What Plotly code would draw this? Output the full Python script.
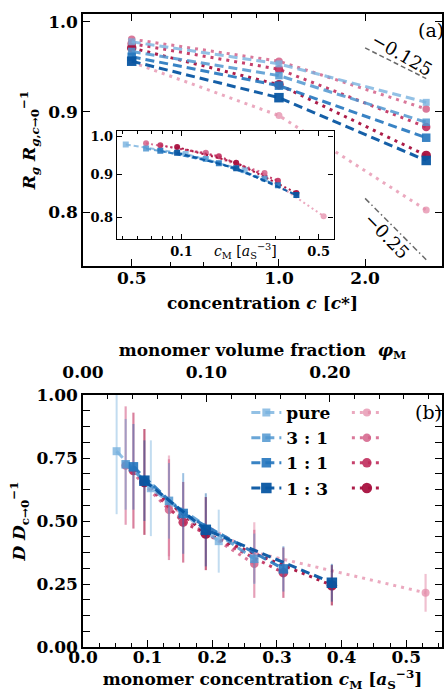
import math
import plotly.graph_objects as go

# ---------------------------------------------------------------- data
RATIOS = ["pure", "3 : 1", "1 : 1", "1 : 3"]
C_VALUES = [0.5, 1.0, 2.0]                     # concentration c [c*]

# monomer concentration c_M for each mixture at c = 0.5, 1, 2
CM_BLUE = [[0.052, 0.105, 0.21],
           [0.066, 0.133, 0.265],
           [0.078, 0.155, 0.31],
           [0.095, 0.19, 0.385]]
CM_RED = [[0.133, 0.265, 0.53],
          [0.066, 0.133, 0.265],
          [0.078, 0.155, 0.31],
          [0.095, 0.19, 0.385]]

# normalised radius of gyration  R_g / R_g(c->0)
RG_BLUE = [[0.977, 0.952, 0.910],
           [0.966, 0.939, 0.889],
           [0.960, 0.928, 0.873],
           [0.955, 0.915, 0.850]]
RG_RED = [[0.954, 0.896, 0.802],
          [0.980, 0.955, 0.903],
          [0.975, 0.946, 0.884],
          [0.970, 0.929, 0.855]]

# normalised diffusion coefficient  D / D(c->0) and its uncertainty
D_BLUE = [[0.777, 0.630, 0.420],
          [0.725, 0.580, 0.350],
          [0.715, 0.530, 0.310],
          [0.660, 0.465, 0.255]]
D_BLUE_ERR = [[0.25, 0.19, 0.125],
              [0.18, 0.15, 0.10],
              [0.17, 0.16, 0.09],
              [0.16, 0.145, 0.075]]
D_RED = [[0.560, 0.375, 0.215],
         [0.720, 0.545, 0.330],
         [0.700, 0.495, 0.295],
         [0.655, 0.450, 0.245]]
D_RED_ERR = [[0.20, 0.12, 0.075],
             [0.235, 0.20, 0.135],
             [0.23, 0.16, 0.10],
             [0.21, 0.145, 0.08]]

# power-law guide lines  (exponent, x-span, y at start)
GUIDE_EXPONENTS = [-0.125, -0.25]
GUIDE_X = [1.5, 2.0]
GUIDE_Y0 = [0.970, 0.813]

PHI_PER_CM = math.pi / 6.0                     # volume fraction per monomer density

# ---------------------------------------------------------------- style
BLUES = ["rgba(120,178,222,0.80)", "rgba(80,150,208,0.85)",
         "rgba(36,117,190,0.90)", "rgba(8,86,162,0.95)"]
REDS = ["rgba(228,140,170,0.75)", "rgba(212,96,136,0.85)",
        "rgba(192,44,92,0.90)", "rgba(168,16,62,0.95)"]
BLUE_ERR = ["rgba(120,178,222,0.45)", "rgba(80,150,208,0.45)",
            "rgba(36,117,190,0.45)", "rgba(8,86,162,0.45)"]
RED_ERR = ["rgba(228,140,170,0.55)", "rgba(212,96,136,0.6)",
           "rgba(192,44,92,0.6)", "rgba(168,16,62,0.65)"]
MSIZE = [7, 7.5, 8.5, 9.5]
DASH_B = "9px,5px"
DOT_R = "3px,5px"

FONT = "DejaVu Serif"
TICKFONT = dict(family=FONT, size=17, color="black", weight="bold")
TITLEFONT = dict(family=FONT, size=17, color="black", weight="bold")

fig = go.Figure()

# ---------------------------------------------------------------- panel (a)
for i in range(4):
    fig.add_trace(go.Scatter(
        x=C_VALUES, y=RG_RED[i], mode="lines+markers", xaxis="x", yaxis="y",
        line=dict(color=REDS[i], width=3, dash=DOT_R),
        marker=dict(symbol="circle", size=MSIZE[i], color=REDS[i]),
        showlegend=False))
for i in range(4):
    fig.add_trace(go.Scatter(
        x=C_VALUES, y=RG_BLUE[i], mode="lines+markers", xaxis="x", yaxis="y",
        line=dict(color=BLUES[i], width=3, dash=DASH_B),
        marker=dict(symbol="square", size=MSIZE[i], color=BLUES[i]),
        showlegend=False))

# guide lines with the labelled exponents
for k, expo in enumerate(GUIDE_EXPONENTS):
    gy = [GUIDE_Y0[k] * (xv / GUIDE_X[0]) ** expo for xv in GUIDE_X]
    fig.add_trace(go.Scatter(
        x=GUIDE_X, y=gy, mode="lines", xaxis="x", yaxis="y",
        line=dict(color="rgba(90,90,90,0.9)", width=1.5,
                  dash="5px,3px" if k == 0 else "6px,3px,1.5px,3px"),
        showlegend=False, hoverinfo="skip"))

# ---------------------------------------------------------------- inset
for i in range(4):
    fig.add_trace(go.Scatter(
        x=CM_RED[i], y=RG_RED[i], mode="lines+markers", xaxis="x4", yaxis="y4",
        line=dict(color=REDS[i], width=2, dash="2px,3px"),
        marker=dict(symbol="circle", size=6, color=REDS[i]),
        showlegend=False))
for i in range(4):
    fig.add_trace(go.Scatter(
        x=CM_BLUE[i], y=RG_BLUE[i], mode="lines+markers", xaxis="x4", yaxis="y4",
        line=dict(color=BLUES[i], width=2, dash="5px,3px"),
        marker=dict(symbol="square", size=6, color=BLUES[i]),
        showlegend=False))

# ---------------------------------------------------------------- panel (b)
for i in range(4):
    fig.add_trace(go.Scatter(
        x=CM_RED[i], y=D_RED[i], mode="lines+markers", xaxis="x2", yaxis="y2",
        error_y=dict(type="data", array=D_RED_ERR[i], color=RED_ERR[i],
                     thickness=2.2, width=0),
        line=dict(color=REDS[i], width=3, dash=DOT_R),
        marker=dict(symbol="circle", size=MSIZE[i] + 1, color=REDS[i]),
        name="", legend="legend2", showlegend=True))
for i in range(4):
    fig.add_trace(go.Scatter(
        x=CM_BLUE[i], y=D_BLUE[i], mode="lines+markers", xaxis="x2", yaxis="y2",
        error_y=dict(type="data", array=D_BLUE_ERR[i], color=BLUE_ERR[i],
                     thickness=2, width=0),
        line=dict(color=BLUES[i], width=3, dash=DASH_B),
        marker=dict(symbol="square", size=MSIZE[i] + 1, color=BLUES[i]),
        name=RATIOS[i], legend="legend", showlegend=True))

# empty trace carrying the volume-fraction axis on top of panel (b)
fig.add_trace(go.Scatter(x=[], y=[], xaxis="x3", yaxis="y2", showlegend=False))

# ---------------------------------------------------------------- axes
frame = dict(showline=True, linecolor="black", linewidth=1.6, ticks="inside",
             tickcolor="black", tickwidth=1.4, ticklen=7, showgrid=False,
             zeroline=False, tickfont=TICKFONT)

CM_MAX = 0.5554
TOP_DOM = [0.6019, 1.0]
BOT_DOM = [0.0, 0.3981]

fig.update_layout(
    width=447, height=693,
    margin=dict(l=83, r=3, t=14, b=46),
    paper_bgcolor="white", plot_bgcolor="white",
    font=dict(family=FONT, color="black"),
    xaxis=dict(frame, type="log", domain=[0, 1], anchor="y", mirror="allticks",
               range=[-0.4006, 0.3333], ticklabelstandoff=-4,
               tickvals=[0.5, 1.0, 1.5], ticktext=["0.5", "1.0", "2.0"],
               minor=dict(tickmode="array", tickvals=[0.6, 0.7, 0.8, 0.9],
                          ticks="inside", ticklen=4, tickcolor="black"),
               title=dict(text="concentration <i>c</i> [<i>c</i>*]",
                          font=TITLEFONT, standoff=10)),
    yaxis=dict(frame, type="log", domain=TOP_DOM, anchor="x", mirror="allticks",
               range=[math.log10(0.751), math.log10(1.0094)],
               tickvals=[0.8, 0.9, 1.0], ticktext=["0.8", "0.9", "1.0"],
               title=dict(text="<i>R<sub>g</sub> R</i><sub><i>g</i>,<i>c</i>→0</sub><sup>−1</sup>",
                          font=TITLEFONT, standoff=8)),
    xaxis4=dict(frame, type="log", domain=[0.0942, 0.698], anchor="y4",
                mirror="allticks", range=[-1.3296, -0.225], ticklen=5,
                linewidth=1.4,
                tickvals=[0.1, 0.5], ticktext=["0.1", "0.5"],
                tickfont=dict(family=FONT, size=13, color="black", weight="bold"),
                minor=dict(tickmode="array",
                           tickvals=[0.05, 0.06, 0.07, 0.08, 0.09, 0.2, 0.3, 0.4],
                           ticks="inside", ticklen=3, tickcolor="black")),
    yaxis4=dict(frame, type="log", domain=[0.6445, 0.8152], anchor="x4",
                mirror="allticks", range=[math.log10(0.753), math.log10(1.014)],
                ticklen=5, linewidth=1.4,
                tickvals=[0.8, 0.9, 1.0], ticktext=["0.8", "0.9", "1.0"],
                tickfont=dict(family=FONT, size=13, color="black", weight="bold")),
    xaxis2=dict(frame, domain=[0, 1], anchor="y2", mirror=False,
                range=[0, CM_MAX], tickvals=[0, 0.1, 0.2, 0.3, 0.4, 0.5],
                ticktext=["0.0", "0.1", "0.2", "0.3", "0.4", "0.5"],
                ticklabelstandoff=-6,
                minor=dict(dtick=0.025, ticks="inside", ticklen=4, tickcolor="black"),
                title=dict(text="monomer concentration <i>c</i><sub>M</sub> [<i>a</i><sub>S</sub><sup>−3</sup>]",
                           font=TITLEFONT, standoff=0)),
    xaxis3=dict(frame, overlaying="x2", side="top", anchor="y2",
                range=[0, CM_MAX * PHI_PER_CM], ticklabelstandoff=8,
                tickvals=[0.0, 0.1, 0.2], ticktext=["0.00", "0.10", "0.20"],
                minor=dict(dtick=0.02, ticks="inside", ticklen=4, tickcolor="black"),
                title=dict(text="monomer volume fraction  <i>φ</i><sub>M</sub>",
                           font=TITLEFONT, standoff=0)),
    yaxis2=dict(frame, domain=BOT_DOM, anchor="x2", mirror="allticks",
                range=[0, 1], tickvals=[0, 0.25, 0.5, 0.75, 1.0],
                ticktext=["0.00", "0.25", "0.50", "0.75", "1.00"],
                minor=dict(dtick=0.0625, ticks="inside", ticklen=4, tickcolor="black"),
                title=dict(text="<i>D D</i><sub>c→0</sub><sup>−1</sup>",
                           font=TITLEFONT, standoff=6)),
    legend=dict(x=0.455, y=0.398, xanchor="left", yanchor="top",
                bgcolor="rgba(0,0,0,0)", tracegroupgap=0, traceorder="normal",
                font=dict(family=FONT, size=17, color="black", weight="bold"),
                itemwidth=30),
    legend2=dict(x=0.735, y=0.398, xanchor="left", yanchor="top",
                 bgcolor="rgba(0,0,0,0)", tracegroupgap=0, traceorder="normal",
                 font=dict(family=FONT, size=17, color="black", weight="bold"),
                 itemwidth=30),
)


def px_x(px):
    """plot-area fraction for a horizontal pixel position"""
    return (px - 83) / 361


def px_y(py):
    """plot-area fraction for a vertical pixel position"""
    return (647 - py) / 633


ann = [
    dict(text="(a)", x=px_x(433), y=px_y(30), font=dict(family=FONT, size=19, color="black")),
    dict(text="(b)", x=px_x(430), y=px_y(412), font=dict(family=FONT, size=19, color="black")),
    dict(text="−0.125", x=px_x(404), y=px_y(54), textangle=30,
         font=dict(family=FONT, size=18, color="black")),
    dict(text="−0.25", x=px_x(388), y=px_y(236), textangle=46,
         font=dict(family=FONT, size=18, color="black")),
    dict(text="<i>c</i><sub>M</sub> [<i>a</i><sub>S</sub><sup>−3</sup>]",
         x=px_x(246), y=px_y(251), font=dict(family=FONT, size=14, color="black")),
]
for a in ann:
    a.update(xref="paper", yref="paper", showarrow=False,
             xanchor="center", yanchor="middle")
fig.update_layout(annotations=ann)

fig.write_html("out.html")
